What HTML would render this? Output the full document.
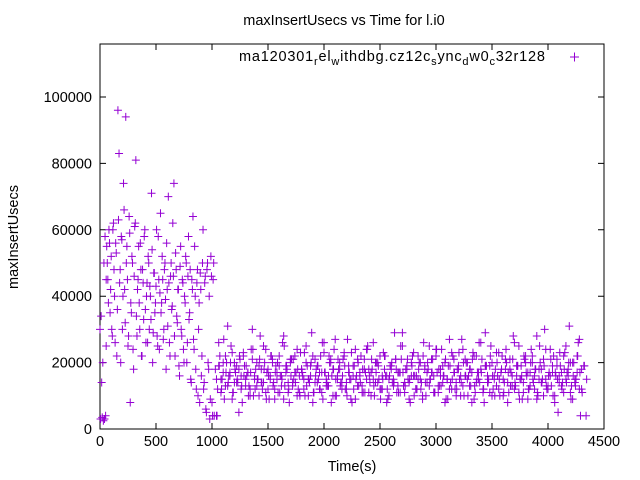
<!DOCTYPE html>
<html><head><meta charset="utf-8"><style>
body{margin:0;background:#fff;}
svg{display:block;font-family:"Liberation Sans",sans-serif;font-size:14.5px;}
</style></head><body>
<svg id="chart" width="640" height="480">
<rect x="0" y="0" width="640" height="480" fill="#fff"/>
<text x="344" y="25" text-anchor="middle">maxInsertUsecs vs Time for l.i0</text>
<text x="352" y="471" text-anchor="middle">Time(s)</text>
<text transform="translate(18,237) rotate(-90)" text-anchor="middle">maxInsertUsecs</text>
<g id="axes"></g>
<g id="points"></g>
<g>
<text x="239" y="61" textLength="306" lengthAdjust="spacing">ma120301<tspan font-size="11" dy="4">r</tspan><tspan dy="-4">el</tspan><tspan font-size="11" dy="4">w</tspan><tspan dy="-4">ithdbg.cz12c</tspan><tspan font-size="11" dy="4">s</tspan><tspan dy="-4">ync</tspan><tspan font-size="11" dy="4">d</tspan><tspan dy="-4">w0</tspan><tspan font-size="11" dy="4">c</tspan><tspan dy="-4">32r128</tspan></text>
<path d="M570,57h9M574.5,52.5v9" stroke="#9400d3" stroke-width="1"/>
</g>
</svg>
<script>
const xTicks=[0,500,1000,1500,2000,2500,3000,3500,4000,4500];
const yTicks=[0,20000,40000,60000,80000,100000];
const t1=[0,5,10,15,20,25,30,35,40,45,50,55,60,70,80,90,100,110,120,130,140,150,160,170,180,190,200,210,220,230,240,250,260,270,280,290,300,310,320,330,340,350,360,370,380,390,400,410,420,430,440,450,460,470,480,490,500,510,520,530,540,550,560,570,580,590,600,610,620,630,640,650,660,670,680,690,700,710,720,730,740,750,760,770,780,790,800,810,820,830,840,850,860,870,880,890,900,910,920,930,940,950,960,970,980,990,1000,1010,1020];
const v1=[30000,3000,34000,14000,3500,20000,2500,50000,3000,58000,4000,25000,55000,45000,60000,35000,52000,28000,62000,40000,56000,22000,96000,83000,48000,58000,30000,74000,42000,94000,55000,25000,64000,8000,35000,50000,18000,61000,81000,28000,45000,38000,56000,22000,48000,33000,60000,26000,44000,52000,30000,40000,71000,20000,47000,35000,43000,28000,58000,24000,65000,38000,45000,30000,50000,18000,42000,70000,26000,46000,36000,62000,74000,22000,48000,32000,42000,16000,55000,28000,44000,20000,38000,50000,26000,58000,35000,15000,45000,64000,24000,40000,12000,48000,30000,8000,42000,22000,60000,14000,46000,5000,50000,18000,3000,52000,8000,45000,4000];
const t1bStart=55, t1bStep=10;
const v1b=[45000,50000,38000,56000,42000,30000,60000,48000,26000,53000,36000,63000,44000,20000,57000,40000,66000,32000,50000,45000,28000,59000,38000,52000,24000,46000,62000,34000,42000,55000,30000,48000,22000,44000,58000,36000,40000,26000,50000,43000,33000,54000,29000,47000,38000,60000,25000,45000,41000,35000,52000,27000,48000,39000,56000,31000,44000,22000,50000,37000,46000,28000,53000,34000,42000,19000,49000,30000,45000,24000,40000,52000,20000,46000,33000,48000,14000,42000,27000,55000,18000,44000,10000,38000,47000,16000,50000,12000,44000,6000,48000,20000,40000,9000,46000,4000,50000];
const t2Start=1030, t2Step=20;
const v2=[18000,12000,22000,15000,9000,20000,16000,25000,11000,17000,14000,21000,8000,19000,16000,13000,24000,10000,18000,15000,28000,12000,20000,17000,9000,22000,14000,19000,11000,16000,26000,13000,18000,8000,21000,15000,17000,12000,23000,16000,10000,19000,14000,29000,11000,18000,15000,22000,9000,17000,13000,20000,16000,24000,10000,18000,14000,21000,12000,27000,15000,8000,19000,16000,13000,22000,11000,17000,25000,14000,18000,10000,20000,15000,12000,23000,16000,9000,19000,14000,29000,11000,17000,21000,13000,18000,15000,8000,22000,16000,12000,20000,14000,26000,10000,18000,15000,21000,11000,17000,13000,24000,16000,9000,19000,14000,22000,12000,18000,15000,27000,10000,20000,16000,13000,23000,11000,17000,14000,21000,8000,19000,15000,25000,12000,18000,16000,10000,22000,14000,20000,11000,17000,28000,13000,19000,15000,9000,21000,16000,12000,24000,14000,18000,10000,20000,15000,30000,12000,17000,13000,22000,16000,5000,19000,14000,23000,17000,31000,13000,20000,15000,26000,4000];
const t3Start=1040, t3Step=20;
const v3=[15000,19000,11000,17000,22000,13000,16000,9000,20000,14000,18000,12000,23000,15000,17000,10000,21000,16000,13000,19000,14000,25000,11000,18000,15000,20000,12000,17000,22000,16000,9000,19000,14000,21000,13000,17000,24000,11000,18000,15000,20000,10000,16000,22000,14000,19000,12000,17000,26000,15000,13000,21000,18000,10000,16000,20000,14000,23000,12000,17000,15000,19000,9000,21000,16000,13000,18000,24000,11000,17000,15000,20000,14000,22000,12000,18000,16000,10000,19000,15000,21000,13000,17000,25000,11000,18000,14000,20000,16000,12000,22000,15000,9000,19000,17000,13000,21000,16000,24000,11000,18000,14000,20000,15000,12000,23000,17000,10000,19000,16000,13000,21000,15000,18000,8000,22000,14000,17000,26000,12000,19000,16000,11000,20000,15000,13000,23000,17000,10000,18000,14000,21000,16000,12000,19000,25000,15000,11000,20000,17000,13000,22000,16000,9000,18000,14000,21000,15000,12000,24000,17000,10000,19000,16000,13000,22000,15000,18000,11000,20000,14000,17000,27000,12000,19000,4000];
const L=100,R=604,T=44,B=429;
const xS=v=>L+(v-0)/4500*(R-L);
const yS=v=>B-(v/100000)*(B-97);
const NS='http://www.w3.org/2000/svg';
const axes=document.getElementById('axes'),pts=document.getElementById('points');
function mk(tag,at,parent){const e=document.createElementNS(NS,tag);for(const k in at)e.setAttribute(k,at[k]);parent.appendChild(e);return e;}
const frame=mk('rect',{x:L,y:T,width:R-L,height:B-T,fill:'none',stroke:'#000','stroke-width':1},axes);


xTicks.forEach(v=>{const x=xS(v);
 const tk=mk('path',{d:`M${x},${B}v-6M${x},${T}v6`,stroke:'#000'},axes);
 
 
 const tx=mk('text',{x:x,y:B+17,'text-anchor':'middle'},axes);tx.textContent=v;
 
 });
yTicks.forEach(v=>{const y=yS(v);
 const tk=mk('path',{d:`M${L},${y}h6M${R},${y}h-6`,stroke:'#000'},axes);
 
 
 const tx=mk('text',{x:L-8,y:y+5,'text-anchor':'end'},axes);tx.textContent=v;
 
 });
function plus(t,v){const x=xS(t),y=yS(v);
 const p=mk('path',{d:`M${x-4},${y}h8M${x},${y-4}v8`,stroke:'#9400d3','stroke-width':1},pts);
 
 }
t1.forEach((t,i)=>plus(t,v1[i]));
v1b.forEach((v,i)=>plus(t1bStart+i*t1bStep,v));
v2.forEach((v,i)=>plus(t2Start+i*t2Step,v));
v3.forEach((v,i)=>plus(t3Start+i*t3Step,v));
v2.forEach((v,i)=>plus(t2Start+10+(v2.length-1-i)*t2Step,v));
v3.forEach((v,i)=>plus(t3Start+5+(v3.length-1-i)*t3Step,v));
</script>
</body></html>
